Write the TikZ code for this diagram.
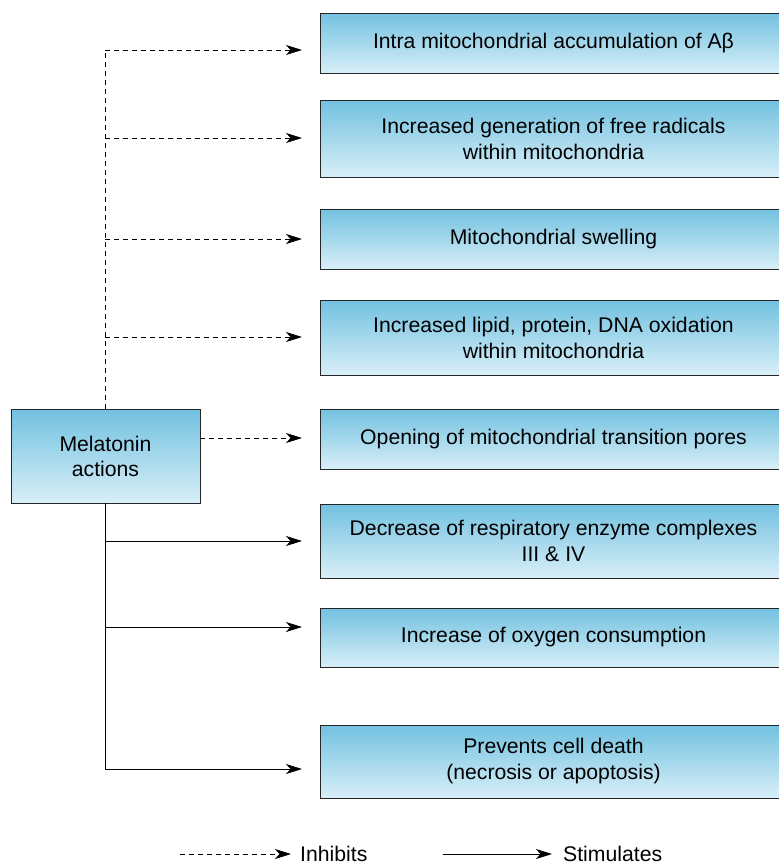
\documentclass[tikz,border=0pt]{standalone}
\usepackage{fontspec}
\setmainfont{Liberation Sans}
\usetikzlibrary{arrows.meta}
\begin{document}
\begin{tikzpicture}[x=1pt,y=-1pt,
  box/.style={draw=black!85, line width=0.9pt, top color=boxtop, bottom color=boxbot,
    align=center, inner sep=0pt, font=\fontsize{21.2}{26}\selectfont, text=black},
  effect/.style={box, minimum width=467pt},
  conn/.style={line width=0.9pt, draw=black},
  tip/.style={-{Stealth[length=16pt,width=10pt,inset=4.5pt]}},
  inh/.style={conn, dash pattern=on 5pt off 4pt, tip},
  stim/.style={conn, tip},
  lbl/.style={font=\fontsize{21.2}{26}\selectfont, text=black, inner sep=0pt, anchor=base west}]
\definecolor{boxtop}{HTML}{72C1E0}
\definecolor{boxbot}{HTML}{D8EFF8}
\useasboundingbox (0,0) rectangle (779,865);

% effect boxes, left edge at x=320
\node[effect, minimum height=60pt] (e1) at (553.5,43) {Intra mitochondrial accumulation of Aβ};
\node[effect, minimum height=77pt] (e2) at (553.5,138.5) {Increased generation of free radicals\\within mitochondria};
\node[effect, minimum height=60pt] (e3) at (553.5,239) {Mitochondrial swelling};
\node[effect, minimum height=75pt] (e4) at (553.5,337.5) {Increased lipid, protein, DNA oxidation\\within mitochondria};
\node[effect, minimum height=60pt] (e5) at (553.5,439) {Opening of mitochondrial transition pores};
\node[effect, minimum height=74pt] (e6) at (553.5,541) {Decrease of respiratory enzyme complexes\\III \& IV};
\node[effect, minimum height=59pt] (e7) at (553.5,637.5) {Increase of oxygen consumption};
\node[effect, minimum height=73pt] (e8) at (553.5,761.5) {Prevents cell death\\(necrosis or apoptosis)};

% central box
\node[box, minimum width=189pt, minimum height=94pt, font=\fontsize{21.2}{25}\selectfont] (mel) at (105.5,456) {Melatonin\\actions};

% trunk lines
\coordinate (top) at (105,50);
\coordinate (bot) at (105,769);
\draw[conn, dash pattern=on 5pt off 4pt] (mel.north -| top) -- (top);
\draw[conn] (mel.south -| bot) -- (bot);

% inhibitory arrows
\coordinate (t1) at (302,50);
\coordinate (t2) at (302,138);
\coordinate (t3) at (302,239);
\coordinate (t4) at (302,337);
\coordinate (t5) at (302,438);
\draw[inh] (top) -- (t1);
\draw[inh] (105,138) -- (t2);
\draw[inh] (105,239) -- (t3);
\draw[inh] (105,337) -- (t4);
\draw[inh] (mel.east |- t5) -- (t5);

% stimulatory arrows
\coordinate (s6) at (302,541);
\coordinate (s7) at (302,627);
\coordinate (s8) at (302,769);
\draw[stim] (105,541) -- (s6);
\draw[stim] (105,627) -- (s7);
\draw[stim] (bot) -- (s8);

% legend
\coordinate (li0) at (180,854);
\coordinate (li1) at (291,854);
\coordinate (ls0) at (443,854);
\coordinate (ls1) at (552,854);
\draw[inh] (li0) -- (li1);
\node[lbl] (linh) at (300,861) {Inhibits};
\draw[stim] (ls0) -- (ls1);
\node[lbl] (lstim) at (563,861) {Stimulates};
\end{tikzpicture}
\end{document}
